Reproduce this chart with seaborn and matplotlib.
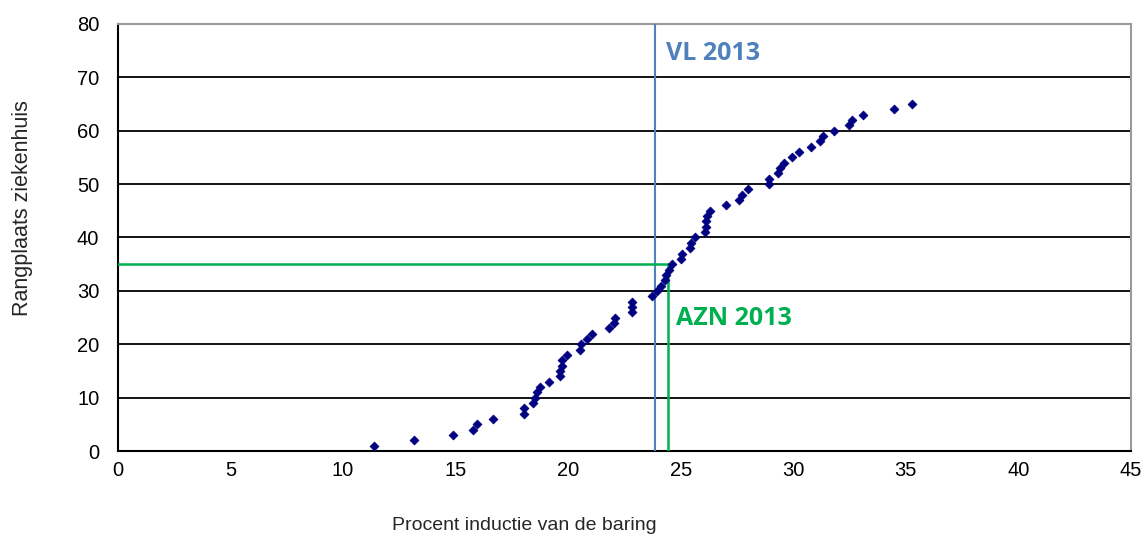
import matplotlib
matplotlib.use("Agg")
import matplotlib.pyplot as plt
import seaborn as sns
import pandas as pd

# rank of each hospital and its induction percentage
rang = list(range(1, 66))
procent = [11.35, 13.16, 14.86, 15.75, 15.94, 16.64, 18.04, 18.04, 18.43, 18.53,
           18.63, 18.75, 19.15, 19.64, 19.64, 19.71, 19.74, 19.93, 20.52, 20.55,
           20.85, 21.04, 21.80, 22.03, 22.06, 22.84, 22.84, 22.84, 23.73, 23.95,
           24.14, 24.32, 24.36, 24.47, 24.61, 25.03, 25.06, 25.40, 25.47, 25.62,
           26.09, 26.13, 26.13, 26.17, 26.28, 27.02, 27.60, 27.72, 28.00, 28.90,
           28.94, 29.30, 29.41, 29.60, 29.93, 30.26, 30.79, 31.19, 31.31, 31.82,
           32.49, 32.60, 33.11, 34.49, 35.28]

vl_2013 = 23.85
azn_2013 = 24.42
azn_rang = 35.0

df = pd.DataFrame({"procent": procent, "rang": rang})

sns.set_style("white")
plt.rcParams['font.family'] = ['Liberation Sans', 'DejaVu Sans']

fig = plt.figure(figsize=(11.47, 5.4), dpi=100)
ax = fig.add_axes([0.1029, 0.1648, 0.8831, 0.7908])

for v in range(10, 80, 10):
    ax.axhline(v, color="black", lw=1.3, zorder=1)

sns.scatterplot(data=df, x="procent", y="rang", ax=ax, marker="D", s=20,
                color="#000080", edgecolor="#000080", linewidth=0.6, zorder=4)

ax.axvline(vl_2013, color="#4F81BD", lw=1.5, zorder=3)
ax.plot([0, azn_2013], [azn_rang, azn_rang], color="#00B050", lw=1.8, zorder=3)
ax.plot([azn_2013, azn_2013], [0, azn_rang], color="#00B050", lw=1.8, zorder=3)

ax.text(vl_2013 + 0.5, 74.5, "VL 2013", color="#4F81BD", fontsize=18,
        fontweight="bold", family=["Open Sans", "DejaVu Sans"], va="center")
ax.text(azn_2013 + 0.35, 24.9, "AZN 2013", color="#00B050", fontsize=18,
        fontweight="bold", family=["Open Sans", "DejaVu Sans"], va="center")

ax.set_xlim(0, 45)
ax.set_ylim(0, 80)
ax.set_xticks(range(0, 46, 5))
ax.set_yticks(range(0, 81, 10))
ax.tick_params(axis="both", direction="inout", length=9, width=1.3,
               labelsize=14.5, colors="black")
ax.tick_params(axis="x", pad=3)
ax.tick_params(axis="y", pad=9)

for s in ["left", "bottom"]:
    ax.spines[s].set_color("black")
    ax.spines[s].set_linewidth(1.5)
for s in ["top", "right"]:
    ax.spines[s].set_color("#999999")
    ax.spines[s].set_linewidth(1.5)

ax.set_xlabel("Procent inductie van de baring", fontsize=14)
ax.set_ylabel("Rangplaats ziekenhuis", fontsize=15.5)
ax.xaxis.set_label_coords(0.401, -0.155)
ax.yaxis.set_label_coords(-0.084, 0.57)

fig.savefig("out.png", dpi=100)
